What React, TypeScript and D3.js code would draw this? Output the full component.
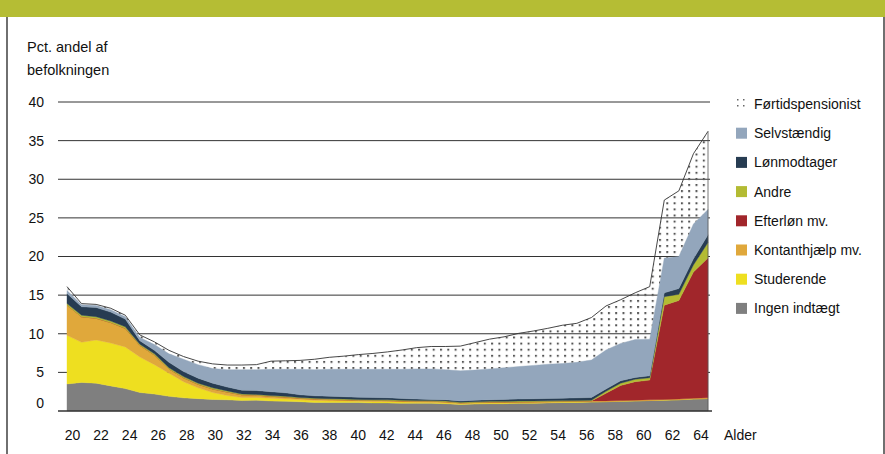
import React from "react";
import * as d3 from "d3";

const ages: number[] = d3.range(20, 65);
const xTicks: number[] = d3.range(20, 65, 2);
const yTicks: number[] = [0, 5, 10, 15, 20, 25, 30, 35, 40];

// Values per series (percentage points), ages 20..64
const ingen = [3.5,3.7,3.6,3.25,2.9,2.4,2.2,1.9,1.7,1.6,1.5,1.45,1.35,1.4,1.3,1.25,1.2,1.1,1.1,1.1,1.1,1.05,1.05,1.0,1.0,1.0,0.95,0.85,0.9,0.95,0.95,1.0,1.0,1.05,1.1,1.1,1.15,1.2,1.25,1.3,1.35,1.4,1.45,1.55,1.6];
const studerende = [6.3,5.2,5.6,5.55,5.4,4.6,3.8,3.0,2.1,1.4,0.9,0.55,0.4,0.35,0.35,0.3,0.25,0.25,0.2,0.18,0.15,0.15,0.15,0.15,0.12,0.1,0.1,0.1,0.1,0.07,0.08,0.05,0.05,0.05,0.05,0.05,0.05,0.02,0.02,0.02,0.02,0.02,0.02,0.02,0.02];
const kontant = [3.9,3.3,2.8,2.65,2.4,1.5,1.25,0.55,0.5,0.45,0.45,0.45,0.35,0.3,0.25,0.25,0.2,0.2,0.2,0.17,0.15,0.17,0.15,0.15,0.15,0.15,0.15,0.1,0.1,0.13,0.12,0.13,0.15,0.12,0.1,0.1,0.1,0.08,0.08,0.08,0.08,0.08,0.08,0.08,0.08];
const efterlon = [0,0,0,0,0,0,0,0,0,0,0,0,0,0,0,0,0,0,0,0,0,0,0,0,0,0,0,0,0,0,0,0,0,0,0,0,0,1.0,1.95,2.4,2.55,12.2,12.75,16.35,18.1];
const andre = [0.2,0.2,0.2,0.2,0.2,0.15,0.15,0.15,0.15,0.15,0.15,0.15,0.1,0.1,0.1,0.1,0.1,0.1,0.1,0.1,0.1,0.1,0.1,0.1,0.1,0.1,0.1,0.07,0.1,0.1,0.1,0.1,0.1,0.1,0.1,0.12,0.1,0.25,0.3,0.3,0.3,1.1,0.8,0.9,2.0];
const lonmodtager = [1.3,1.1,1.2,1.15,1.0,0.45,0.45,0.7,0.65,0.65,0.6,0.5,0.5,0.5,0.5,0.45,0.35,0.32,0.32,0.3,0.28,0.27,0.27,0.22,0.18,0.15,0.15,0.18,0.2,0.2,0.25,0.27,0.28,0.3,0.3,0.33,0.35,0.3,0.3,0.25,0.25,0.5,0.75,0.8,1.0];
const selvstaendig = [0.4,0.25,0.25,0.3,0.3,0.4,0.75,1.1,1.6,1.75,1.9,2.25,2.65,2.7,2.9,3.05,3.3,3.38,3.48,3.55,3.62,3.66,3.68,3.78,3.9,3.95,3.9,3.9,3.9,4.0,4.1,4.2,4.32,4.43,4.5,4.6,4.85,5.05,4.85,4.9,4.75,4.5,4.15,4.5,3.3];
const fortid = [0.5,0.15,0.15,0.2,0.2,0.35,0.35,0.45,0.35,0.45,0.6,0.6,0.6,0.65,1.05,1.1,1.15,1.35,1.55,1.7,1.9,2.05,2.25,2.5,2.75,2.9,3.0,3.2,3.55,3.85,4.0,4.3,4.45,4.65,4.95,5.05,5.5,5.7,5.65,6.05,6.8,7.5,8.5,9.1,10.1];

const seriesNames = ["Ingen indtægt","Studerende","Kontanthjælp mv.","Efterløn mv.","Andre","Lønmodtager","Selvstændig","Førtidspensionist"];
const seriesValues = [ingen, studerende, kontant, efterlon, andre, lonmodtager, selvstaendig, fortid];
const seriesColors = ["#7f7f7f","#eedf20","#e0a83b","#a1262b","#b3bb33","#273c52","#93a6bc","url(#dots)"];

const legendOrder = [7,6,5,4,3,2,1,0];

export default function App() {
  const W = 885, H = 454;
  const x = d3.scaleLinear().domain([20, 64]).range([67, 708]);
  const xl = d3.scaleLinear().domain([20, 64]).range([72.5, 701]);
  const y = d3.scaleLinear().domain([0, 40]).range([411, 102]);

  const rows = ages.map((a, i) => {
    const r: any = { age: a };
    seriesValues.forEach((s, k) => (r["s" + k] = s[i]));
    return r;
  });
  const keys = seriesValues.map((_, k) => "s" + k);
  const stacked = d3.stack().keys(keys)(rows as any);
  const area = d3.area<any>().x((d) => x(d.data.age)).y0((d) => y(d[0])).y1((d) => y(d[1]));
  const topLine = d3.line<any>().x((d) => x(d.data.age)).y((d) => y(d[1]));
  const last = stacked[stacked.length - 1];
  const font = "'Liberation Sans', Arial, sans-serif";

  return (
    <div style={{ position: "absolute", left: 0, top: 0 }}>
      <svg width={W} height={H} style={{ display: "block", background: "#fff" }}>
        <defs>
          <pattern id="dots" width={7.3} height={6.1} patternUnits="userSpaceOnUse" x={2} y={1}>
            <rect x={0} y={0} width={2} height={2} fill="#555" />
          </pattern>
          <pattern id="dotsLeg" width={6} height={6} patternUnits="userSpaceOnUse" x={737} y={99}>
            <rect x={0} y={0} width={1.5} height={1.5} fill="#666" />
          </pattern>
        </defs>
        <rect x={0} y={0} width={W} height={17} fill="#b5bd34" />
        <line x1={7} x2={7} y1={17} y2={H} stroke="#222" strokeWidth={1.3} />
        <line x1={884} x2={884} y1={17} y2={H} stroke="#222" strokeWidth={1.3} />
        <text x={27} y={52} fontFamily={font} fontSize={14.5} fill="#111">Pct. andel af</text>
        <text x={27} y={75} fontFamily={font} fontSize={14.5} fill="#111">befolkningen</text>

        {yTicks.filter((t) => t > 0).map((t) => (
          <line key={t} x1={58} x2={710} y1={y(t)} y2={y(t)} stroke="#333" strokeWidth={1} />
        ))}
        {yTicks.map((t) => (
          <text key={"l" + t} x={44} y={y(t) - (t === 0 ? 8 : 0)} dy="0.35em" textAnchor="end" fontFamily={font} fontSize={14} fill="#111">{t}</text>
        ))}

        {stacked.map((s, k) => (
          <path key={k} d={area(s as any) || ""} fill={seriesColors[k]}
            stroke={k === 7 ? "none" : seriesColors[k]} strokeWidth={k === 7 ? 0 : 0.4} />
        ))}
        <path d={topLine(last as any) || ""} fill="none" stroke="#333" strokeWidth={0.9} />
        <line x1={x(64)} x2={x(64)} y1={y(last[last.length - 1][1])} y2={y(0)} stroke="#555" strokeWidth={0.8} />
        <line x1={58} x2={712} y1={y(0)} y2={y(0)} stroke="#333" strokeWidth={1.5} />

        {xTicks.map((t) => (
          <text key={"x" + t} x={xl(t)} y={435} dy="0.35em" textAnchor="middle" fontFamily={font} fontSize={14} fill="#111">{t}</text>
        ))}
        <text x={724} y={435} dy="0.35em" fontFamily={font} fontSize={14} fill="#111">Alder</text>

        {legendOrder.map((k, i) => {
          const cy = 104 + i * 29.2;
          return (
            <g key={"lg" + k}>
              {k === 7 ? (
                <rect x={736} y={cy - 5} width={10} height={10} fill="url(#dotsLeg)" />
              ) : (
                <rect x={736} y={cy - 5.5} width={11} height={11} fill={seriesColors[k]} />
              )}
              <text x={754} y={cy} dy="0.35em" fontFamily={font} fontSize={14} fill="#111">{seriesNames[k]}</text>
            </g>
          );
        })}
      </svg>
    </div>
  );
}
